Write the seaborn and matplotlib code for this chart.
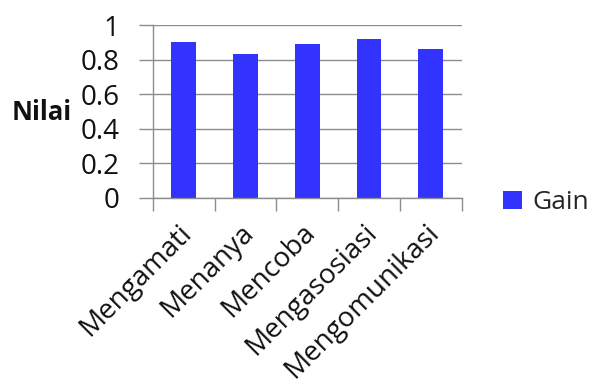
import matplotlib

matplotlib.use("Agg")

import pandas as pd
import matplotlib.pyplot as plt
import matplotlib.transforms as mtransforms
import seaborn as sns
from matplotlib.patches import Patch

# data
categories = ["Mengamati", "Menanya", "Mencoba", "Mengasosiasi", "Mengomunikasi"]
gain = [0.903, 0.832, 0.890, 0.919, 0.861]
y_ticks = [0, 0.2, 0.4, 0.6, 0.8, 1]
y_tick_labels = ["0", "0.2", "0.4", "0.6", "0.8", "1"]
series_name = "Gain"

bar_color = "#3333ff"
grid_color = "#8c8c8c"

df = pd.DataFrame({"Aspek": categories, series_name: gain})

sns.set_theme(style="white")
plt.rcParams["font.family"] = ["Open Sans", "DejaVu Sans"]

fig = plt.figure(figsize=(5.92, 3.85), dpi=100)
ax = fig.add_axes([0.258, 0.486, 0.522, 0.449])

sns.barplot(
    data=df,
    x="Aspek",
    y=series_name,
    color=bar_color,
    saturation=1,
    width=0.4,
    linewidth=0,
    ax=ax,
)

ax.set_xlim(-0.5, len(categories) - 0.5)
ax.set_ylim(0, 1)
ax.set_yticks(y_ticks)
ax.set_yticklabels(y_tick_labels, fontsize=20, color="#111111")
ax.set_xticks(range(len(categories)))
ax.set_xticklabels(
    categories, rotation=45, ha="right", rotation_mode="anchor", fontsize=20, color="#111111"
)
ax.set_xticks([i - 0.5 for i in range(len(categories) + 1)], minor=True)
ax.tick_params(axis="x", which="major", length=0, pad=12)
ax.tick_params(axis="x", which="minor", length=9, width=1, color=grid_color, direction="out", bottom=True)
ax.tick_params(axis="y", length=10, width=1, color=grid_color, direction="out", left=True, pad=14)

# shift the slanted labels a little down-left, as in the reference
shift = mtransforms.ScaledTranslation(-6 / 100, -4 / 100, fig.dpi_scale_trans)
for lbl in ax.get_xticklabels():
    lbl.set_transform(lbl.get_transform() + shift)

ax.yaxis.grid(True, color=grid_color, linewidth=1)
ax.set_axisbelow(True)
for side in ["top", "right"]:
    ax.spines[side].set_visible(False)
for side in ["left", "bottom"]:
    ax.spines[side].set_color(grid_color)
    ax.spines[side].set_linewidth(1)

ax.set_xlabel("")
ax.set_ylabel("")
fig.text(0.070, 0.709, "Nilai", fontsize=18.5, fontweight="bold", ha="center", va="center",
         color="#111111")

fig.legend(
    handles=[Patch(facecolor=bar_color, edgecolor="none", label=series_name)],
    loc="center left",
    bbox_to_anchor=(0.850, 0.473),
    frameon=False,
    fontsize=19,
    handlelength=0.7,
    handleheight=0.7,
    handletextpad=0.4,
    borderpad=0,
    borderaxespad=0,
)

fig.savefig("out.png", dpi=100)
